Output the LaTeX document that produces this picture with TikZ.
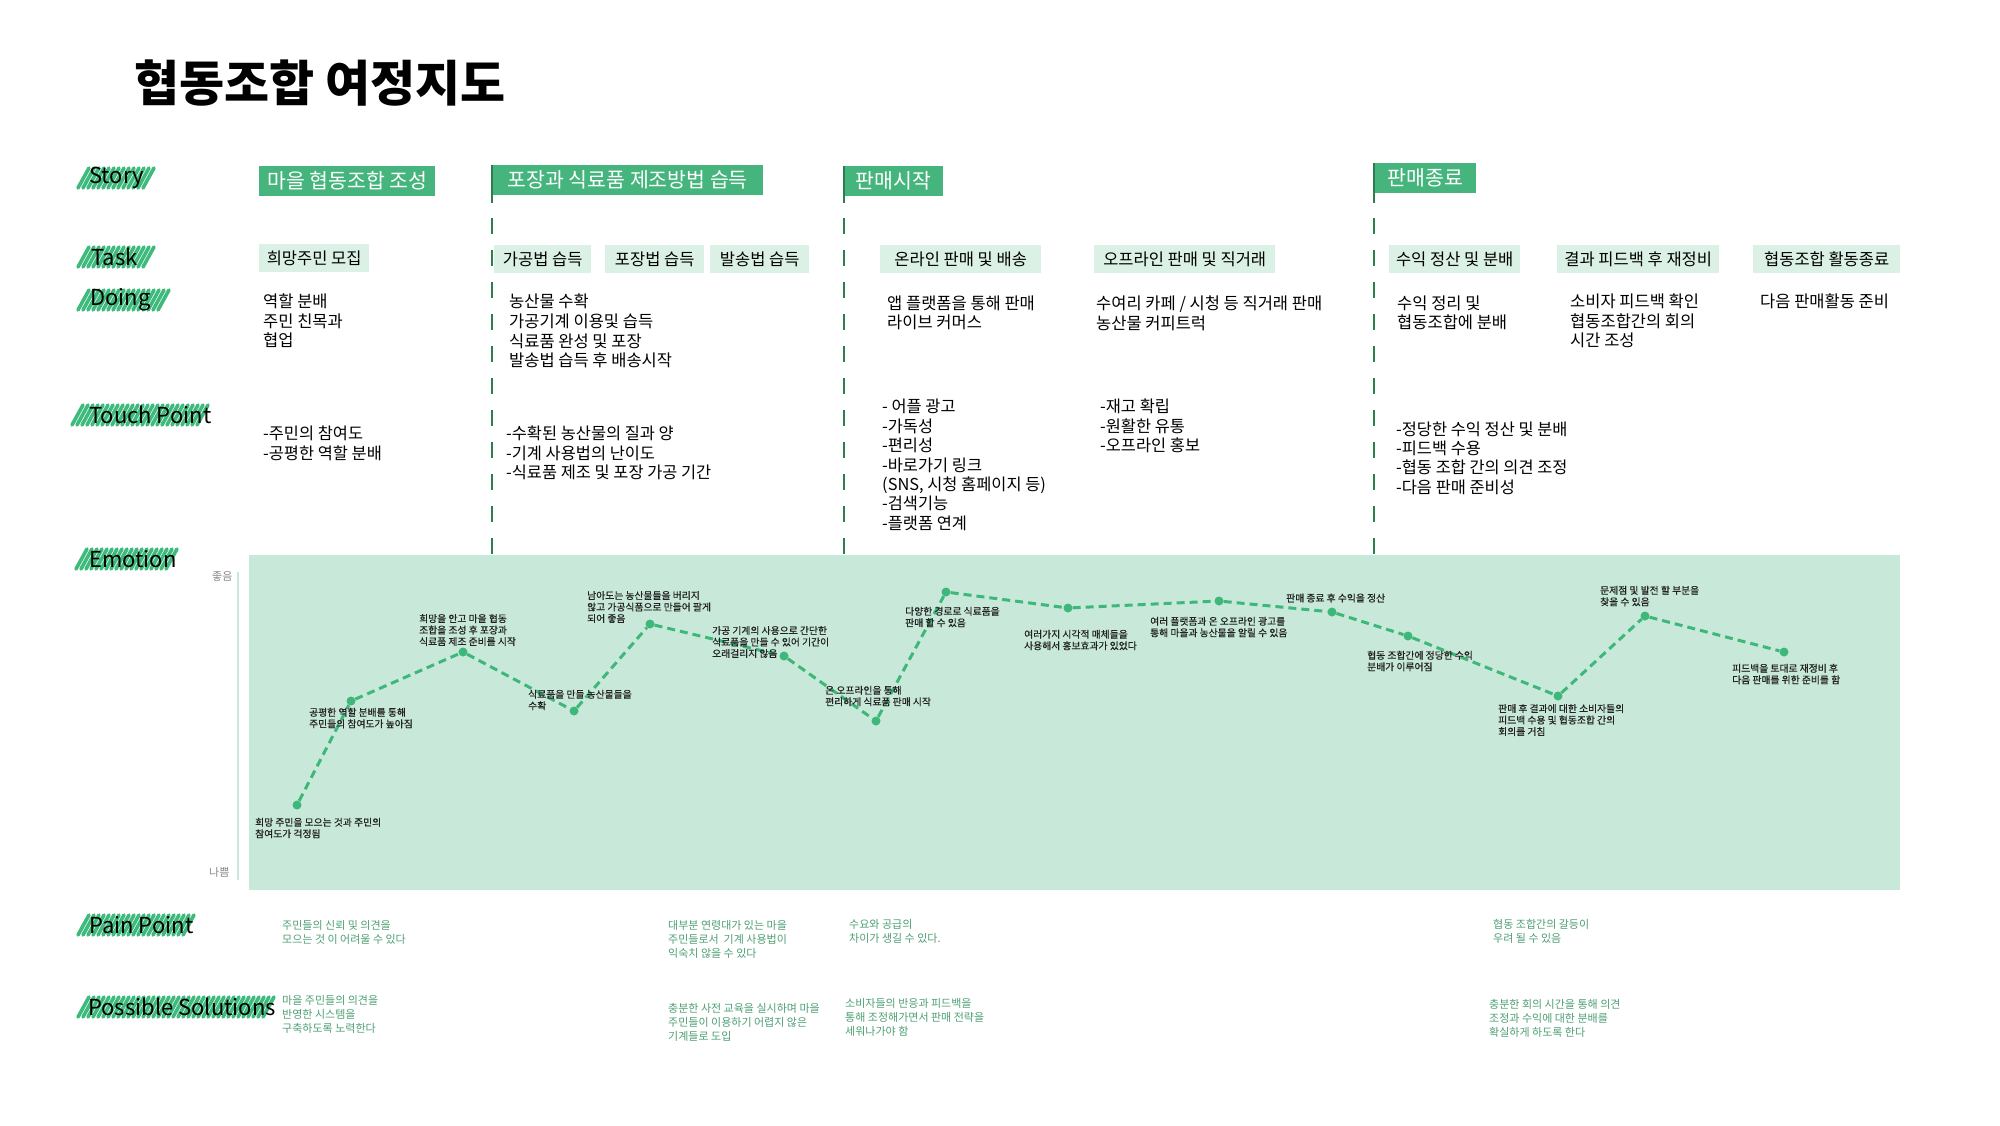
\documentclass[tikz,border=0pt]{standalone}
\usepackage{fontspec}
\setmainfont{Noto Sans CJK KR}
\newfontfamily\emofont[FakeBold=0.5]{Noto Sans CJK KR}
\definecolor{cStory}{HTML}{45B57D}
\definecolor{cTask}{HTML}{DCF1E6}
\definecolor{cEmoBg}{HTML}{C8E9D9}
\definecolor{cDiv}{HTML}{2E7D4F}
\definecolor{cEmo}{HTML}{3DB87A}
\definecolor{cScrib}{HTML}{3DBA7C}
\definecolor{cPain}{HTML}{4F9F74}
\definecolor{cAxisTxt}{HTML}{888888}
\definecolor{cLabel}{HTML}{222222}
\newcommand{\hlscribble}[3]{%
  \pgfmathsetmacro{\hlA}{#1}%
  \pgfmathsetmacro{\hlB}{#1+5}%
  \pgfmathsetmacro{\hlC}{#2-11}%
  \foreach \xx in {\hlA,\hlB,...,\hlC}{\draw[scribble] (\xx,#3+10) -- (\xx+11,#3-10);}%
}
\begin{document}
\begin{tikzpicture}[x=1pt,y=-1pt,
  storybox/.style={fill=cStory, text=white, font=\fontsize{20.5}{23}\selectfont, minimum height=30pt, inner xsep=4pt, inner ysep=0pt, anchor=north west},
  taskbox/.style={fill=cTask, font=\fontsize{16.5}{19}\selectfont, minimum height=28pt, inner sep=0pt, anchor=north west},
  bodytext/.style={font=\fontsize{16.5}{19.6}\selectfont, align=left, anchor=west, inner sep=0pt},
  touchtext/.style={font=\fontsize{16.4}{19.4}\selectfont, align=left, anchor=west, inner sep=0pt},
  rowlabel/.style={font=\fontsize{22}{24}\selectfont, anchor=west, inner sep=0pt},
  emolabel/.style={font=\emofont\fontsize{9.8}{11.5}\selectfont, align=left, anchor=west, inner sep=0pt, text=cLabel},
  paintext/.style={font=\fontsize{11}{14}\selectfont, align=left, anchor=west, inner sep=0pt, text=cPain},
  axistext/.style={font=\fontsize{11}{12}\selectfont, anchor=west, inner sep=0pt, text=cAxisTxt},
  emodot/.style={circle, fill=cEmo, inner sep=0pt, minimum size=9pt},
  emoline/.style={draw=cEmo, line width=3pt, dash pattern=on 8pt off 5pt},
  divider/.style={draw=cDiv, line width=2pt},
  divdash/.style={divider, dash pattern=on 16pt off 16pt},
  scribble/.style={draw=cScrib, line width=3.6pt, line cap=round}
]
\fill[white] (0,0) rectangle (2000,1125);
\useasboundingbox (0,0) rectangle (2000,1125);

% title
\node[anchor=west, inner sep=0pt, font=\fontsize{49}{54}\selectfont\bfseries] (title) at (134,83) {협동조합 여정지도};

% row labels with scribbles
\hlscribble{78}{154}{178}
\hlscribble{78}{154}{257}
\hlscribble{78}{172}{300}
\hlscribble{72}{212}{415}
\hlscribble{76}{180}{559}
\hlscribble{78}{196}{925}
\hlscribble{78}{277}{1007}
\node[rowlabel] (lstory) at (89,178) {Story};
\node[rowlabel] (ltask) at (91,257) {Task};
\node[rowlabel] (ldoing) at (90,300) {Doing};
\node[rowlabel] (ltouch) at (89,415) {Touch Point};
\node[rowlabel] (lemotion) at (89,559) {Emotion};
\node[rowlabel] (lpain) at (89,925) {Pain Point};
\node[rowlabel] (lsol) at (88,1007) {Possible Solutions};

% story boxes
\node[storybox, minimum width=176pt] (s1) at (259,166) {마을 협동조합 조성};
\node[storybox, minimum width=271pt] (s2) at (492,165) {포장과 식료품 제조방법 습득};
\node[storybox, minimum width=99pt] (s3) at (844,166) {판매시작};
\node[storybox, minimum width=102pt] (s4) at (1374,163) {판매종료};

% dividers
\foreach \dx/\dy in {492/165, 844/166, 1374/163}{
  \draw[divider] (\dx,\dy) -- (\dx,203);
  \draw[divdash] (\dx,218) -- (\dx,555);
}

% task boxes
\node[taskbox, minimum width=110pt] (t1) at (259,244) {희망주민 모집};
\node[taskbox, minimum width=97pt] (t2) at (494,245) {가공법 습득};
\node[taskbox, minimum width=99pt] (t3) at (605,245) {포장법 습득};
\node[taskbox, minimum width=99pt] (t4) at (710,245) {발송법 습득};
\node[taskbox, minimum width=161pt] (t5) at (880,245) {온라인 판매 및 배송};
\node[taskbox, minimum width=181pt] (t6) at (1094,245) {오프라인 판매 및 직거래};
\node[taskbox, minimum width=131pt] (t7) at (1389,245) {수익 정산 및 분배};
\node[taskbox, minimum width=162pt] (t8) at (1557,245) {결과 피드백 후 재정비};
\node[taskbox, minimum width=147pt] (t9) at (1753,245) {협동조합 활동종료};

% doing
\node[bodytext] (d1) at (263,321) {역할 분배\\주민 친목과\\협업};
\node[bodytext] (d2) at (509,331) {농산물 수확\\가공기계 이용및 습득\\식료품 완성 및 포장\\발송법 습득 후 배송시작};
\node[bodytext] (d3) at (887,313) {앱 플랫폼을 통해 판매\\라이브 커머스};
\node[bodytext] (d4) at (1096,313) {수여리 카페 / 시청 등 직거래 판매\\농산물 커피트럭};
\node[bodytext] (d5) at (1397,313) {수익 정리 및\\협동조합에 분배};
\node[bodytext] (d6) at (1570,321) {소비자 피드백 확인\\협동조합간의 회의\\시간 조성};
\node[bodytext] (d7) at (1760,301) {다음 판매활동 준비};

% touch points
\node[touchtext] (tp1) at (263,443.5) {-주민의 참여도\\-공평한 역할 분배};
\node[touchtext] (tp2) at (506,453) {-수확된 농산물의 질과 양\\-기계 사용법의 난이도\\-식료품 제조 및 포장 가공 기간};
\node[touchtext] (tp3) at (882,465) {- 어플 광고\\-가독성\\-편리성\\-바로가기 링크\\(SNS, 시청 홈페이지 등)\\-검색기능\\-플랫폼 연계};
\node[touchtext] (tp4) at (1100,426) {-재고 확립\\-원활한 유통\\-오프라인 홍보};
\node[touchtext] (tp5) at (1396,458) {-정당한 수익 정산 및 분배\\-피드백 수용\\-협동 조합 간의 의견 조정\\-다음 판매 준비성};

% emotion area
\fill[cEmoBg] (249,555) rectangle (1900,890);
\draw[draw=cEmoBg, line width=2pt] (238,572) -- (238,880);
\node[axistext] (good) at (212,577) {좋음};
\node[axistext] (bad) at (209,872) {나쁨};

\node[emodot] (p1) at (297,805) {};
\node[emodot] (p2) at (351,701) {};
\node[emodot] (p3) at (463,652) {};
\node[emodot] (p4) at (574,711) {};
\node[emodot] (p5) at (650,624) {};
\node[emodot] (p6) at (784,656) {};
\node[emodot] (p7) at (876,721) {};
\node[emodot] (p8) at (946,592) {};
\node[emodot] (p9) at (1068,608) {};
\node[emodot] (p10) at (1219,601) {};
\node[emodot] (p11) at (1332,612) {};
\node[emodot] (p12) at (1408,636) {};
\node[emodot] (p13) at (1558,696) {};
\node[emodot] (p14) at (1645,616) {};
\node[emodot] (p15) at (1784,652) {};
\draw[emoline] (p1) -- (p2) -- (p3) -- (p4) -- (p5) -- (p6) -- (p7) -- (p8) -- (p9) -- (p10) -- (p11) -- (p12) -- (p13) -- (p14) -- (p15);

\node[emolabel] (e1) at (255,828) {희망 주민을 모으는 것과 주민의\\참여도가 걱정됨};
\node[emolabel] (e2) at (309,718) {공평한 역할 분배를 통해\\주민들의 참여도가 높아짐};
\node[emolabel] (e3) at (419,630) {희망을 안고 마을 협동\\조합을 조성 후 포장과\\식료품 제조 준비를 시작};
\node[emolabel] (e4) at (528,700) {식료품을 만들 농산물들을\\수확};
\node[emolabel] (e5) at (587,607) {남아도는 농산물들을 버리지\\않고 가공식품으로 만들어 팔게\\되어 좋음};
\node[emolabel] (e6) at (712,642) {가공 기계의 사용으로 간단한\\식료품을 만들 수 있어 기간이\\오래걸리지 않음};
\node[emolabel] (e7) at (825,696) {온 오프라인을 통해\\편리하게 식료품 판매 시작};
\node[emolabel] (e8) at (905,617) {다양한 경로로 식료품을\\판매 할 수 있음};
\node[emolabel] (e9) at (1024,640) {여러가지 시각적 매체들을\\사용해서 홍보효과가 있었다};
\node[emolabel] (e10) at (1150,627) {여러 플랫폼과 온 오프라인 광고를\\통해 마을과 농산물을 알릴 수 있음};
\node[emolabel] (e11) at (1286,598) {판매 종료 후 수익을 정산};
\node[emolabel] (e12) at (1367,661) {협동 조합간에 정당한 수익\\분배가 이루어짐};
\node[emolabel] (e13) at (1498,720) {판매 후 결과에 대한 소비자들의\\피드백 수용 및 협동조합 간의\\회의를 거침};
\node[emolabel] (e14) at (1600,596) {문제점 및 발전 할 부분을\\찾을 수 있음};
\node[emolabel] (e15) at (1732,674) {피드백을 토대로 재정비 후\\다음 판매를 위한 준비를 함};

% pain points
\node[paintext] (pp1) at (282,932) {주민들의 신뢰 및 의견을\\모으는 것 이 어려울 수 있다};
\node[paintext] (pp2) at (668,939) {대부분 연령대가 있는 마을\\주민들로서\ \ 기계 사용법이\\익숙치 않을 수 있다};
\node[paintext] (pp3) at (849,931.5) {수요와 공급의\\차이가 생길 수 있다.};
\node[paintext] (pp4) at (1493,931.5) {협동 조합간의 갈등이\\우려 될 수 있음};

% possible solutions
\node[paintext] (ps1) at (282,1014) {마을 주민들의 의견을\\반영한 시스템을\\구축하도록 노력한다};
\node[paintext] (ps2) at (668,1022) {충분한 사전 교육을 실시하며 마을\\주민들이 이용하기 어렵지 않은\\기계들로 도입};
\node[paintext] (ps3) at (845,1017) {소비자들의 반응과 피드백을\\통해 조정해가면서 판매 전략을\\세워나가야 함};
\node[paintext] (ps4) at (1489,1018) {충분한 회의 시간을 통해 의견\\조정과 수익에 대한 분배를\\확실하게 하도록 한다};
\end{tikzpicture}
\end{document}
